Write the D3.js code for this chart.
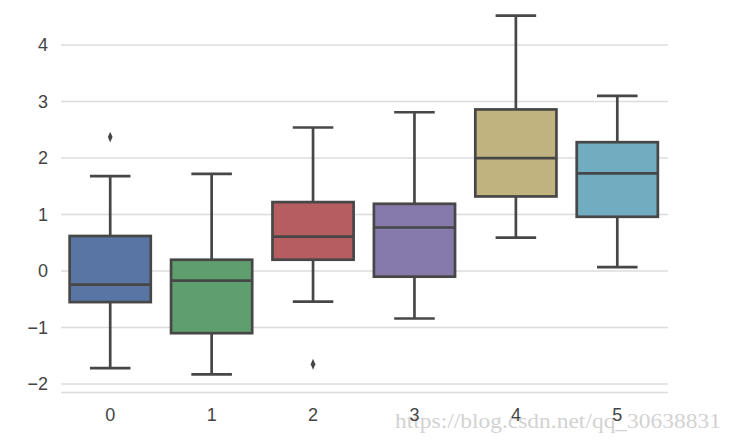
<!DOCTYPE html>
<html>
<head>
<meta charset="utf-8">
<script src="https://cdn.jsdelivr.net/npm/d3@7"></script>
<style>
  html, body { margin: 0; padding: 0; background: #ffffff; }
  svg { display: block; }
</style>
</head>
<body>
<svg id="chart" width="737" height="442"></svg>
<script>
// ---- data ----
const categories = ["0", "1", "2", "3", "4", "5"];
const whiskerLow  = [-1.72, -1.83, -0.54, -0.84, 0.59, 0.07];
const q1          = [-0.55, -1.10,  0.20, -0.10, 1.32, 0.96];
const medians     = [-0.24, -0.17,  0.61,  0.77, 2.00, 1.73];
const q3          = [ 0.62,  0.20,  1.22,  1.19, 2.86, 2.28];
const whiskerHigh = [ 1.68,  1.72,  2.54,  2.81, 4.52, 3.10];
const outliers    = [[2.37], [], [-1.65], [], [], []];
const boxColors   = ["#5875a3", "#5f9e6e", "#b55d60", "#857aaa", "#c1b37f", "#71adc0"];
const yTicks      = [-2, -1, 0, 1, 2, 3, 4];
const watermark   = "https://blog.csdn.net/qq_30638831";

// ---- layout ----
const svg = d3.select("#chart");
const x = d3.scaleBand().domain(categories).range([59.5, 668]).padding(0);
const y = d3.scaleLinear().domain([-2.15, 4.85]).range([392.5, -3]);
const lineColor = "#474747";
const lw = 2.7;
const boxW = x.bandwidth() * 0.8;

// grid
svg.append("g").selectAll("line").data(yTicks).join("line")
  .attr("x1", 61).attr("x2", 668)
  .attr("y1", d => y(d)).attr("y2", d => y(d))
  .attr("stroke", "#dcdcdc").attr("stroke-width", 1.6);
// bottom spine
svg.append("line")
  .attr("x1", 61).attr("x2", 668)
  .attr("y1", y(-2.15)).attr("y2", y(-2.15))
  .attr("stroke", "#dcdcdc").attr("stroke-width", 1.6);

// watermark (behind labels)
svg.append("text")
  .attr("x", 395).attr("y", 428)
  .attr("font-family", "'Liberation Serif', 'DejaVu Serif', serif")
  .attr("font-size", 20)
  .attr("textLength", 326).attr("lengthAdjust", "spacingAndGlyphs")
  .attr("fill", "#d2d2d2")
  .text(watermark);

// y tick labels
const yAxis = d3.axisLeft(y).tickValues(yTicks).tickSize(0).tickPadding(0)
  .tickFormat(d => d < 0 ? "\u2212" + Math.abs(d) : String(d));
const gy = svg.append("g").attr("transform", "translate(48,0)").call(yAxis);
gy.select(".domain").remove();
gy.selectAll("text")
  .attr("font-family", "'Liberation Sans', Arial, sans-serif")
  .attr("font-size", 18).attr("fill", "#444444");

// x tick labels
const xAxis = d3.axisBottom(x).tickSize(0).tickPadding(0);
const gx = svg.append("g").attr("transform", "translate(0,408)").call(xAxis);
gx.select(".domain").remove();
gx.selectAll("text")
  .attr("font-family", "'Liberation Sans', Arial, sans-serif")
  .attr("font-size", 18).attr("fill", "#444444");

// boxes
const data = categories.map((c, i) => ({
  c, lo: whiskerLow[i], q1: q1[i], med: medians[i], q3: q3[i], hi: whiskerHigh[i],
  out: outliers[i], color: boxColors[i]
}));

const g = svg.append("g");
const bx = g.selectAll("g.box").data(data).join("g").attr("class", "box");
const cx = d => x(d.c) + x.bandwidth() / 2;

// whiskers
bx.append("line").attr("x1", cx).attr("x2", cx)
  .attr("y1", d => y(d.q3)).attr("y2", d => y(d.hi))
  .attr("stroke", lineColor).attr("stroke-width", lw);
bx.append("line").attr("x1", cx).attr("x2", cx)
  .attr("y1", d => y(d.q1)).attr("y2", d => y(d.lo))
  .attr("stroke", lineColor).attr("stroke-width", lw);
// caps
bx.append("line").attr("x1", d => cx(d) - boxW / 4).attr("x2", d => cx(d) + boxW / 4)
  .attr("y1", d => y(d.hi)).attr("y2", d => y(d.hi))
  .attr("stroke", lineColor).attr("stroke-width", lw);
bx.append("line").attr("x1", d => cx(d) - boxW / 4).attr("x2", d => cx(d) + boxW / 4)
  .attr("y1", d => y(d.lo)).attr("y2", d => y(d.lo))
  .attr("stroke", lineColor).attr("stroke-width", lw);
// box
bx.append("rect")
  .attr("x", d => cx(d) - boxW / 2).attr("width", boxW)
  .attr("y", d => y(d.q3)).attr("height", d => y(d.q1) - y(d.q3))
  .attr("fill", d => d.color)
  .attr("stroke", lineColor).attr("stroke-width", lw);
// median
bx.append("line").attr("x1", d => cx(d) - boxW / 2).attr("x2", d => cx(d) + boxW / 2)
  .attr("y1", d => y(d.med)).attr("y2", d => y(d.med))
  .attr("stroke", lineColor).attr("stroke-width", lw);
// outliers
const diamond = d3.symbol().type(d3.symbolDiamond).size(34);
bx.each(function(d) {
  d3.select(this).selectAll("path.out").data(d.out).join("path")
    .attr("class", "out")
    .attr("d", diamond)
    .attr("transform", v => `translate(${cx(d)},${y(v)}) scale(0.75,1)`)
    .attr("fill", lineColor);
});
</script>
</body>
</html>
